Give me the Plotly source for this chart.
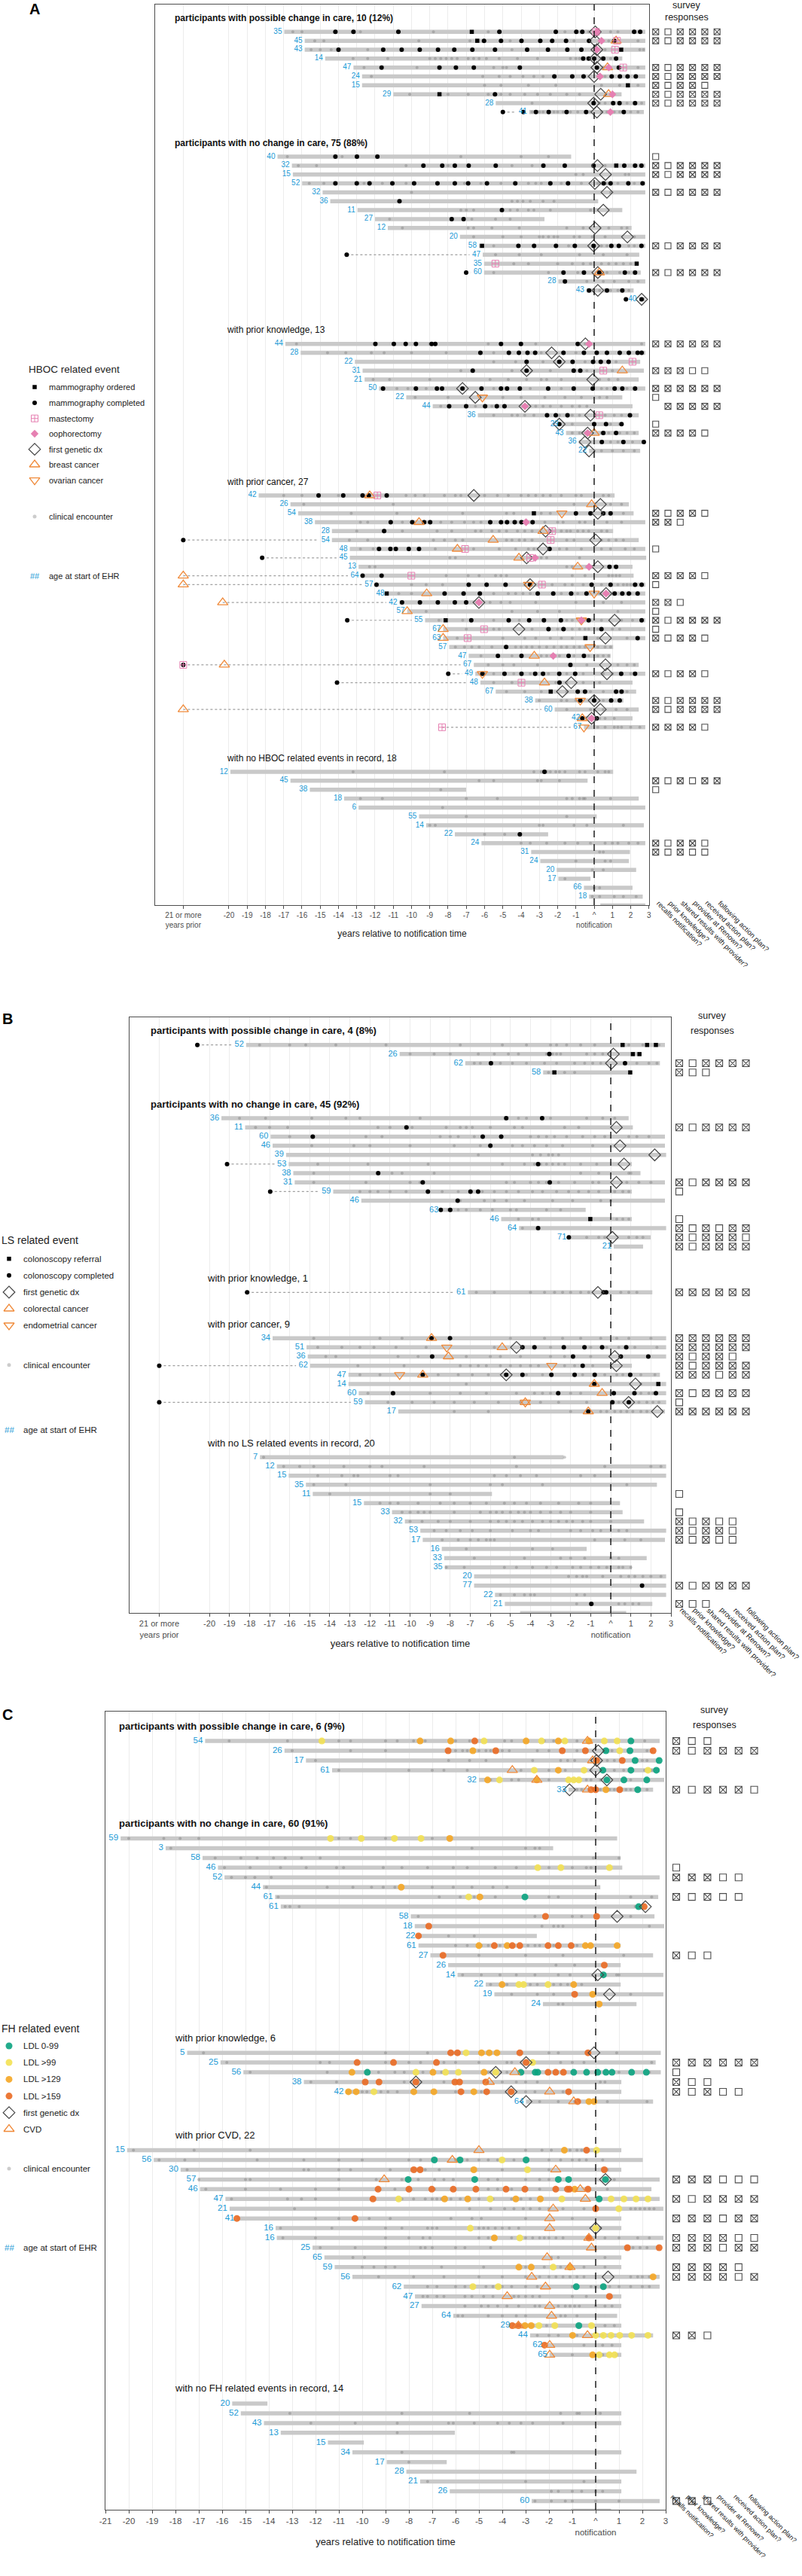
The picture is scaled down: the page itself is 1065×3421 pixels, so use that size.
import plotly.graph_objects as go

W, H = 1065, 3421
FONT = "Liberation Sans, Arial, sans-serif"
BLUE = "#1b9ad6"
BAR = "#c9c9c9"
ENC = "rgba(100,100,100,0.33)"
ORANGE = "#f08a3a"
PINK = "#e680b2"
DARK = "#444444"
SURVEY_Q = ["recalls notification?", "prior knowledge?", "shared results with provider?",
            "provider at Renown?", "received action plan?", "following action plan?"]

# ---------------- A: HBOC ----------------
A_titles = ["<b>participants with possible change in care, 10 (12%)</b>",
            "<b>participants with no change in care, 75 (88%)</b>",
            "with prior knowledge, 13", "with prior cancer, 27",
            "with no HBOC related events in record, 18"]
A_sizes = [10, 17, 13, 27, 18]
A_age = [35, 45, 43, 14, 47, 24, 15, 29, 28, 41,
         40, 32, 15, 52, 32, 36, 11, 27, 12, 20, 58, 47, 35, 60, 28, 43, 40,
         44, 28, 22, 31, 21, 50, 22, 44, 36, 29, 43, 36, 22,
         42, 26, 54, 38, 28, 54, 48, 45, 13, 64, 57, 48, 42, 57, 55, 67, 63, 57, 47, 67, 49, 48, 67, 38, 60, 42, 67,
         12, 45, 38, 18, 6, 55, 14, 22, 24, 31, 24, 20, 17, 66, 18, 27, 49, 25]
A_start = [-16.97, -15.85, -15.85, -14.73, -13.18, -12.71, -12.71, -11.0, -5.39, -3.55,
           -17.34, -16.55, -16.5, -15.99, -14.87, -14.45, -12.96, -12.0, -11.3, -7.35, -6.31, -6.1, -6.03, -6.03,
           -1.96, -0.42, 2.45,
           -16.91, -16.07, -13.1, -12.68, -12.57, -11.78, -10.29, -8.84, -6.37, -1.82, -1.54, -0.84, -0.28,
           -18.37, -16.63, -16.21, -15.29, -14.36, -14.36, -13.38, -13.38, -12.9, -12.76, -11.98, -11.36, -10.66,
           -10.24, -9.26, -8.27, -8.27, -7.94, -6.87, -6.59, -6.51, -6.23, -5.39, -3.23, -2.16, -0.65, -0.56,
           -19.92, -16.63, -15.57, -13.69, -12.9, -9.59, -9.2, -7.63, -6.17, -3.45, -2.95, -2.05, -1.96, -0.56,
           -0.28, 0.34, 1.26, 2.52]
A_end = [2.8, 2.8, 2.8, 1.54, 2.8, 2.8, 2.8, 1.5, 2.8, 2.72,
         -1.26, 2.8, 2.8, 2.8, 2.8, 0.22, 1.54, -2.72, 2.05, 2.8, 2.8, 2.47, 2.4, 2.55, 2.8, 2.16, 2.8,
         2.8, 2.8, 2.52, 2.72, 2.44, 2.8, 1.54, 2.1, 2.44, 1.54, 2.44, 2.8, 2.52,
         1.12, 1.9, 2.16, 2.8, 1.04, 2.44, 2.8, 2.85, 2.1, 2.16, 2.8, 2.8, 2.8, 2.8, 2.8, 2.8, 2.8, 1.04, 0.9,
         2.44, 2.8, 2.1, 2.3, 1.6, 2.44, 2.1, 2.8,
         1.04, -0.36, -7.01, 2.44, 2.8, 0.14, 2.72, -2.52, 2.8, 1.96, 1.9, 2.3, -0.2, 2.1, 2.66, 2.8, 2.8, 2.75]
A_enc = {
    0: [-16.5, -16.0, -12.8, -8.8, -5.8, -1.6, -0.3, 0.9, 1.3], 1: [-15.3, -14.8, -9.6, -6.8, -4.6, -1.1, 0.8, 2.4],
    2: [-15.5, -15.0, -14.4, -12.4, -4.5, 0.6, 2.5, 2.7],
    3: [-13.2, -12.4, -11.3, -9.0, -8.7, -8.4, -8.1, -7.8, -7.5, -6.9, -6.6, -6.3, -5.9, -5.2, -4.2, -3.1, -1.3,
        -1.0, -0.8, 0.4, 0.9],
    4: [-12.6, -9.7, -5.5, -5.0, -4.8, 0.5, 2.4], 5: [-12.2, -6.1, -5.2, -4.6, -3.9, -3.3, -2.8, 0.6],
    6: [-6.0, -5.1, -3.6, -2.1, 0.4, 1.4, 2.4], 7: [-10.1, -8.0, -6.9, -5.8, -5.1, -4.6, -3.8, -3.1, -2.4, -1.5, -0.8],
    8: [-3.4, 0.3, 0.6, 1.8, 2.6], 9: [-3.4, -3.0, -2.8, -2.2, -2.0, -1.7, -1.3, -0.9, -0.2, 0.4, 0.7, 1.1, 1.4, 2.0, 2.4],
    10: [-16.8, -13.8, -7.3, -4.0, -2.5], 11: [-16.2, -15.2, -10.3, -8.0, -4.5, -3.4, 0.6, 1.6], 12: [-1.0, -0.6, 1.7, 1.9],
    13: [-15.6, -14.8, -12.6, -11.6, -10.3, -7.1, -6.2, -5.1, -3.6, -3.2, -2.9, -1.8, -0.7, 0.2, 0.7, 1.3, 2.2],
    14: [-10.0, 0.9], 15: [-4.5, -4.2, -3.9, -3.5, -2.8, -2.2], 16: [-7.3, -7.0, -6.6, -4.6, -4.2, -3.6, -3.3, -2.4, -0.2],
    17: [-11.2, -6.7, -5.4, -4.6], 18: [-10.5, -6.9, -6.6, -5.6, -4.1, -1.5, -0.6, 0.8, 1.5, 1.8],
    19: [-6.6, -5.0, -4.0, -3.0, -2.8, -2.5, -2.2, -2.0, -1.1, -0.8, -0.1, 0.6, 2.2], 20: [-5.5, -1.4, 0.4, 0.7, 1.9, 2.2],
    21: [-5.4, -4.1, -2.9, -0.8, 0.5, 1.8], 22: [-4.4, -3.6, -2.0, -1.2, -0.6, -0.2, 0.4, 0.8, 1.2, 1.6, 2.0],
    23: [-5.5, -2.5, -0.9, 0.7, 1.4, 1.9], 24: [-0.4, 0.5, 1.1, 1.9, 2.4], 25: [-0.3, 0.3, 0.9, 1.3, 1.9],
    27: [-16.3, -9.0, -5.8, -3.2, -0.5, 2.6], 28: [-14.6, -13.6, -12.2, -11.5, -10.0, -8.1, -5.5, -2.9, -1.0],
    29: [-5.5, -4.3, -2.8, -0.5, 1.2], 30: [-7.3, -4.5, -2.4, -0.4, 1.0],
    31: [-12.1, -11.2, -9.0, -5.7, -4.7, -3.7, -2.9, -2.6, -1.8, 0.3, 0.8, 1.3],
    32: [-10.8, -10.2, -9.2, -5.5, -3.5, -1.8, 0.4, 0.7, 1.8], 33: [-9.8, -8.0, -5.0, -4.0, -2.7, -1.6, -0.7, 0.3, 0.7],
    34: [-8.4, -6.5, -5.6, -3.2, -2.8, -2.4, -1.8, -1.2, -0.8, -0.4],
    35: [-5.5, -4.5, -4.2, -3.8, -3.3, -1.9, -1.2, -0.8, 0.6, 1.1, 1.5], 36: [-1.2, 0.9, 1.4],
    37: [-1.2, -0.8, 0.4, 0.8, 1.4, 1.8, 2.2], 38: [0.9, 1.3, 2.1], 39: [0.4, 1.0, 1.6, 2.2],
    40: [-17.0, -16.0, -14.0, -10.3, -9.8, -9.3, -8.2, -7.6, -7.3, -6.0, -5.3, -4.7, -4.0, -3.6, -3.2, -2.8, -2.4,
         -1.8, -1.0, -0.7, 0.5, 0.8],
    41: [-15.9, -11.0, -1.1, 0.9, 1.5], 42: [-13.3, -10.8, -7.2, -4.8, -4.4, -2.9, -2.4, 1.6],
    43: [-12.8, -12.4, -10.5, -10.0, -8.4, -7.8, -7.1, -6.6, -6.2, -2.7, -2.0, -1.7, -0.8, -0.5, 0.7, 1.5],
    44: [-13.0, -10.5, -8.6, -7.8, -6.5, -6.2, -5.6, -5.2, -4.8, -4.2, -3.8, -3.4, -1.8, -1.5, -1.3, -0.9, -0.6,
         -0.3, 0.4, 0.7],
    45: [-13.4, -12.4, -8.8, -8.2, -7.6, -7.2, -4.8, -4.5, -4.1, -3.8, -3.4, -1.5, -1.1, 0.4, 0.8, 1.2, 1.6],
    46: [-12.8, -12.1, -8.7, -6.6, -5.2, -4.3, -3.6, -3.3, -1.9, -1.5, -0.7, 0.4, 0.9, 1.7, 2.2],
    47: [-7.9, -7.6, -2.9, -2.6, -0.8], 48: [-12.3, -12.0, -1.5, -1.2, -0.4],
    49: [-8.1, -6.9, -6.3, -5.4, -5.1, -4.8, -1.2, -0.5, 0.8, 1.0, 1.2, 1.4],
    50: [-10.0, -9.2, -8.3, -2.3, -1.6, -1.2, -0.6, 0.4, 1.3, 1.6, 1.8, 2.0],
    51: [-10.7, -10.0, -5.5, -4.7, -4.3, -3.9, -3.5, -1.8, -0.9, 0.3, 0.6, 2.0],
    52: [-6.4, -5.7, -5.1, -4.6, -3.2, -1.0, 0.5, 1.5], 53: [-9.2, -4.5, -3.1, -1.9, 1.3],
    54: [-8.5, -7.2, -5.5, -4.1, -1.5, -1.2, 0.4, 1.5, 2.1],
    55: [-7.0, -5.5, -5.2, -3.4, -2.0, -1.6, -1.2, -0.8, -0.5, -0.3, 0.2, 1.0, 1.4],
    56: [-7.5, -5.0, -3.8, -3.2, -2.4, -1.8, -1.2, 0.2, 1.8],
    57: [-7.6, -7.1, -6.7, -6.3, -5.6, -4.3, -4.0, -3.7, -3.4, -3.0, -2.6, -2.2, -1.8, -1.5, -1.1, -0.8, -0.5, 0.2,
         0.6, 0.9],
    58: [-6.2, -4.5, -2.9, -2.6, -1.9, -1.1, -0.3, 0.2, 0.5, 0.8], 59: [-5.8, -5.0, -4.4, -3.1, -0.4, 1.3, 1.8, 2.2],
    60: [-6.0, -5.5, -4.4, -3.5, -2.5, -1.5, -0.6, 0.5, 1.0, 2.0], 61: [-5.5, -4.5, -2.1, -1.5, -0.6, 0.3],
    62: [-4.8, -3.8, -2.9, -1.5, -0.2, 0.5, 1.8], 63: [-3.0, -1.8, -1.5, -1.0, 0.5], 64: [-1.5, -0.2, 0.5, 1.2, 1.8],
    65: [0.3, 0.6, 1.1], 66: [0.2, 0.6, 1.1, 1.3, 1.5, 2.0, 2.5],
    67: [-13.2, -8.2, -3.3, -2.9, -2.6, -2.4, -2.1, -1.9, -1.6, -0.8, -0.5, 0.2, 0.6, 0.8],
    68: [-6.3, -5.5, -3.1, -2.9, -1.9], 69: [-8.4], 70: [-12.8, -11.6, -7.0, -5.3, -1.5, -1.2, -0.8, -0.6, -0.5, 0.9],
    71: [-8.3], 72: [-7.0, -1.5], 73: [-9.0, -8.7, -3.0, -2.8, -1.1, -0.4, 1.6], 74: [-6.0, -4.9],
    75: [-4.0, -3.5, -2.6, -1.6, -0.9, -0.2, 0.6, 1.0, 1.3, 1.9, 2.4], 76: [0.3, 0.5], 77: [-1.0, 0.6, 0.9],
    78: [-0.1, 0.5], 79: [-1.6], 80: [0.0, 0.3], 81: [-0.1, 0.3, 1.1, 1.6, 2.3], 82: [0.4, 2.0],
}
A_done = {
    0: [-14.17, -13.18, -10.72, -5.19, -2.10, -0.98, -0.65, 2.19, 2.52],
    1: [-6.03, -5.1, -3.98, -2.95, -2.3, -1.54, -0.28, 1.1],
    2: [-14.0, -11.55, -10.54, -9.55, -8.55, -7.66, -6.67, -5.43, -3.67, -2.53, -1.47, -0.7, 0.15],
    3: [-0.6, -0.3, 0.0, 0.5, 1.2], 4: [-11.64, -8.47, -7.57, -6.59, -4.07, 0.15, 1.35],
    5: [-2.18, -1.2, -0.58, 0.96, 1.41, 1.83, 2.28], 7: [-5.43], 8: [-0.03, 1.04, 1.39, 2.24],
    9: [-5.0, -3.88, -3.19, -2.49, -1.51, -0.44, 1.62], 10: [-14.17, -12.99, -11.87],
    11: [-9.35, -8.32, -7.63, -6.87, -5.39, -2.78, -1.61, -0.03, 1.65, 2.24, 2.59],
    13: [-14.17, -13.0, -12.3, -11.05, -9.86, -8.58, -7.63, -6.9, -5.87, -4.32, -2.4, -1.43, 0.52, 0.9, 1.87, 2.65],
    15: [-10.66], 16: [-5.05], 17: [-7.8, -7.15], 20: [-4.15, -3.29, -2.09, -1.06, -0.03, 0.94, 1.35, 2.59],
    21: [-13.55], 23: [-7.01, -1.68, -0.56, 0.28, 1.68, 2.24], 24: [-1.6], 25: [-0.28, 0.7, 1.54], 26: [1.74, 2.6],
    27: [-11.98, -10.97, -10.32, -9.76, -8.9, -8.7, -5.1, -4.01, -0.9],
    28: [-6.23, -4.67, -4.12, -3.65, -3.23, -1.68, -0.56, 0.14, 0.7, 1.4, 1.9, 2.38, 2.6],
    29: [-3.7, -1.91, -1.18, -0.06, 0.36, 0.79], 30: [-6.65, -3.7, -1.12, -0.76],
    32: [-11.56, -9.76, -8.61, -8.33, -7.21, -6.17, -5.1, -4.77, -4.07, -2.52, -1.12, -0.08, 1.12, 1.54, 2.24],
    34: [-7.94, -7.01, -5.97, -5.33, -4.91], 35: [-2.58, -2.1, -1.46, 1.96], 36: [-1.91, 0.0, 0.65, 1.5],
    37: [0.5, 1.2], 38: [0.42, 1.6, 2.72], 40: [-15.09, -13.74, -12.68, -12.34, -11.36], 42: [-1.0, -0.2, 0.5, 0.9],
    43: [-11.14, -9.96, -9.31, -8.98, -5.69, -5.1, -4.77, -4.35, -3.98, -3.73, -3.37], 44: [-11.5], 45: [-22.5],
    46: [-11.78, -11.16, -10.86, -10.15, -9.59, -2.44], 47: [-18.18], 48: [0.84, 1.2], 49: [-12.68, -11.64],
    50: [-11.92, -6.87, -5.89, -4.85, -3.51, -0.14, 0.9, 2.24, 2.6],
    51: [-8.19, -7.15, -6.26, -3.09, -2.24, -1.26, -0.42, 1.12, 1.54, 1.9, 2.38],
    52: [-10.52, -9.54, -8.56, -7.63, -7.01], 54: [-13.52, -6.73, -4.68, -3.56, -2.75, -1.82, -0.3, 2.6],
    55: [-2.5, -1.68, 0.4], 56: [2.38], 57: [-4.82], 58: [-5.27, -3.98, -2.24, -1.4, -0.56], 59: [-22.5, -1.3],
    60: [-7.99, -6.12, -4.91, -3.98, -3.23, -2.8, -1.91, -1.04, 1.48, 2.24], 61: [-14.08, -1.9],
    62: [-0.9, -0.5, 1.2, 1.5], 63: [-0.76, 0.0, 0.93, 1.4], 65: [-0.65, 0.14], 67: [-2.72], 74: [-4.07],
}
A_ordered = {0: -6.70, 1: -6.4, 2: 1.48, 6: 1.85, 7: -8.47, 11: 1.21, 20: -6.14, 22: 2.33, 42: -3.3,
             51: -11.36, 54: -8.13, 56: -0.48, 62: -2.38}
A_gdx = {0: 0.06, 1: 0.06, 2: 0.15, 3: 0.05, 4: 0.15, 5: 0.0, 7: 0.36, 8: -0.03, 9: 0.15, 11: 0.18, 12: 0.62,
         13: 0.04, 14: 0.7, 16: 0.5, 18: 0.05, 19: 1.82, 20: -0.03, 23: 0.2, 25: 0.2, 26: 2.6, 27: -0.48,
         28: -2.33, 29: -1.91, 30: -3.7, 31: -0.08, 32: -7.21, 33: -6.51, 34: -3.79, 35: -0.2, 36: -1.91,
         37: -0.36, 38: -0.5, 39: -0.28, 40: -6.59, 41: 0.34, 42: 0.2, 44: -2.66, 45: 0.08, 46: -2.8, 47: -3.7,
         48: 0.2, 50: -3.51, 51: 0.65, 52: -6.31, 54: 1.12, 55: -4.12, 56: 0.62, 59: 0.62, 60: 0.7, 61: -1.26,
         62: -1.74, 63: 0.0, 64: 0.34, 65: -0.14}
A_breast = {1: 1.2, 4: 0.73, 7: 0.79, 23: 0.28, 30: 1.54, 37: 0.0, 40: -12.29, 41: -0.14, 43: -9.59, 44: -2.8,
            45: -5.53, 46: -7.49, 47: -4.12, 48: -0.9, 49: -22.5, 50: -22.5, 51: -9.17, 52: -20.34, 53: -10.24,
            55: -8.27, 56: -8.27, 58: -3.28, 59: -20.25, 61: -2.72, 64: -22.5, 65: -0.65}
A_ovarian = {33: -6.12, 42: -1.77, 50: -3.59, 51: 0.0, 54: -0.7, 57: -0.22, 60: -6.12, 63: -0.76, 66: -0.56}
A_mastectomy = {0: 0.1, 1: 1.25, 2: 1.14, 4: 1.59, 22: -5.41, 29: 2.1, 30: 0.5, 35: 0.28, 40: -11.87, 44: -2.3,
                45: -2.38, 46: -7.07, 47: -3.5, 49: -10.01, 50: -2.86, 55: -6.03, 56: -6.93, 59: -22.5,
                61: -3.98, 66: -8.33}
A_oophorectomy = {0: 0.15, 1: 0.4, 2: 0.15, 4: 0.8, 5: 0.32, 7: 1.0, 9: 0.89, 27: -0.28, 34: -3.79, 37: -0.36,
                  43: -3.73, 47: -3.23, 48: -0.28, 51: 0.65, 52: -6.31, 54: -0.7, 58: -2.24, 65: -0.14}
A_survey = {0: "x_xxxx", 1: "x_xxxx", 4: "x_xxxx", 5: "x_xxxx", 6: "x_xx_", 7: "x_xxxx", 8: "x_xxxx",
            10: "_", 11: "x_xxxx", 12: "x_xxxx", 14: "x_xxxx", 20: "x_xxxx", 23: "x_xxxx",
            27: "xxxxxx", 30: "xxx__", 32: "xxxxxx", 33: "_", 34: " xxxxx", 36: "_", 37: "xxxx_",
            42: "x_xx_", 43: "xx_", 46: "_", 49: "xxxx_", 50: "_", 52: "xx_", 53: "_", 54: "x_xxxx", 55: "_",
            56: "x_xx_", 60: "x_xx_", 63: "x_xxxx", 64: "x_xxxx", 66: "xxxx_",
            68: "x_x_xx", 69: "_", 75: "x_xx_", 76: "x_x__", 82: "x_x_xx", 83: "x_xxxx", 84: "x x_xx"}

# ---------------- B: LS ----------------
B_titles = ["<b>participants with possible change in care, 4 (8%)</b>",
            "<b>participants with no change in care, 45 (92%)</b>",
            "with prior knowledge, 1", "with prior cancer, 9", "with no LS related events in record, 20"]
B_sizes = [4, 15, 1, 9, 20]
B_age = [52, 26, 62, 58,
         36, 11, 60, 46, 39, 53, 38, 31, 59, 46, 63, 46, 64, 71, 21,
         61,
         34, 51, 36, 62, 47, 14, 60, 59, 17,
         7, 12, 15, 35, 11, 15, 33, 32, 53, 17, 16, 33, 35, 20, 77, 22, 21, 34, 26, 23]
B_start = [-18.17, -10.52, -7.25, -3.37,
           -19.4, -18.22, -16.95, -16.85, -16.18, -16.05, -15.82, -15.75, -13.83, -12.43, -8.47, -5.46, -4.57,
           -2.09, 0.15,
           -7.12,
           -16.85, -15.16, -15.1, -14.98, -13.07, -13.07, -12.56, -12.25, -10.59,
           -17.48, -16.64, -16.05, -15.19, -14.85, -12.3, -10.9, -10.26, -9.49, -9.37, -8.42, -8.3, -8.27,
           -6.81, -6.81, -5.77, -5.28, -4.52, 0.41, 1.3]
B_end = [2.7, 1.48, 2.45, 0.97,
         0.89, 1.1, 2.7, 2.7, 2.76, 1.05, 1.48, 2.7, 1.05, 2.7, -1.25, 1.05, 2.76, 1.99, 1.61,
         2.07,
         2.76, 2.76, 2.76, 1.05, 2.45, 2.76, 2.76, 2.76, 2.7,
         -2.35, 2.76, 2.76, 2.3, -5.92, 0.46, 0.59, 1.66, 2.76, 2.7, -1.2, 1.79, 1.05, 2.76, 2.76, 2.76, 2.07,
         0.77, 2.76, 2.76]
B_enc = {
    0: [-17.5, -16.0, -15.2, -13.7, -11.2, -7.5, -5.4, -4.2, -3.0, -2.7, -2.2, -1.5, -0.8, 0.9, 1.6, 2.4],
    1: [-10.0, -8.8, -8.0, -6.6, -5.8, -5.1, -4.6, -3.2, -2.9, -2.7, -2.5, -1.2, -0.8, -0.4],
    2: [-6.8, -6.5, -5.5, -4.9, -4.2, -3.3, -2.7, -1.8, -1.3, -0.9, -0.5, 1.3, 1.9, 2.3], 3: [-3.1, -2.3, -1.8],
    4: [-18.5, -17.2, -14.9, -13.2, -12.5, -9.5, -4.6, -4.2, -3.0, -1.2, -0.4, 0.2],
    5: [-17.7, -17.0, -16.1, -11.6, -11.0, -9.9, -8.2, -7.5, -7.2, -6.9, -6.0, -4.8, -4.4, -2.3, -1.6],
    6: [-16.0, -12.2, -11.4, -8.5, -8.0, -7.6, -6.8, -4.0, -3.6, -3.2, -2.8, -2.2, -1.4, -0.8, -0.3, 0.9, 1.3, 1.9],
    7: [-14.9, -12.8, -12.0, -10.0, -7.8, -6.5, -4.9, -4.4, -3.8, -3.2, -2.4, -0.9],
    8: [-6.6, -3.9, -3.5, -3.1, -2.9, -2.6],
    9: [-14.6, -12.1, -9.1, -5.4, -4.3, -3.8, -3.5, -3.2, -2.9, -2.6, -2.3, -1.5, -0.7],
    10: [-14.8, -10.9, -10.4, -8.8, -1.5, -0.6, 0.9, 1.0],
    11: [-14.8, -12.2, -10.0, -9.5, -5.2, -4.8, -4.0, -3.6, -3.2, -2.6, -1.8, -0.9, -0.6, 0.8, 1.4, 2.0],
    12: [-12.5, -12.0, -11.6, -11.0, -10.2, -8.4, -7.6, -6.4, -5.8, -5.2, -4.6, -3.9, -3.4, -2.7, -2.1, -1.6,
         -1.1, -0.6, 0.2, 0.6, 0.9],
    13: [-7.5, -6.3, -5.8, -5.2, -4.3, -2.9, -1.9, -0.5, 0.0], 14: [-8.1, -7.6, -7.2, -6.5, -5.9, -5.0, -4.7, -3.2, -2.5],
    15: [-4.6, -3.9, -3.6, 0.3, 0.6, 0.9], 16: [-4.4], 17: [-1.2, -0.6, -0.3, 0.9, 1.3, 1.6],
    19: [-6.7, -5.8, -4.0, -3.3, -2.8, -2.4, -2.0, -1.5, -1.1, 0.5, 0.9, 1.3],
    20: [-14.8, -11.5, -10.4, -5.0, -3.3, -2.4, -1.5, -0.5, 0.3, 0.9, 2.0],
    21: [-14.6, -13.4, -12.5, -11.8, -10.7, -9.2, -5.8, -3.0, -1.0, -0.2, 0.4, 1.2, 2.3],
    22: [-14.2, -13.7, -10.6, -9.6, -7.2, -6.0, -5.5, -4.5, -3.0, -2.3, -1.0, 0.5],
    23: [-12.6, -10.3, -7.5, -7.0, -6.6, -6.2, -5.5, -5.0, -4.5, -4.0, -3.6, -2.3, -1.8, -0.9],
    24: [-12.5, -11.5, -8.6, -7.6, -6.9, -6.1, -4.2, -3.4, -1.4, -0.3, 0.3, 0.6, 1.5, 2.2], 25: [-7.2, 1.5],
    26: [-12.1, -9.0, -7.5, -6.2, -4.7, -3.8, -3.4, -3.0, -2.0, -1.5, 1.5, 1.9, 2.1],
    27: [-11.1, -9.9, -8.8, -7.8, -6.8, -5.6, -4.5, -3.5, -2.6, -1.2, 0.4, 1.4, 1.8, 2.1, 2.4],
    28: [-7.8, -6.1, -2.0, -0.5, -0.2, 0.2, 0.5, 0.8, 1.1, 1.5, 1.8],
    29: [-17.3, -4.8, -2.3], 30: [-16.3, -15.5, -14.8, -13.3, -12.0, -11.4, -9.3, -4.7, -0.3, 2.0, 2.5],
    31: [-14.6, -13.4, -12.8, -12.6, -11.0, -10.6, -5.8, -5.2, -4.5, -3.7, -1.5, -0.8],
    32: [-14.8, -13.2, -9.0, -6.0, -5.4, -3.4, 0.8], 33: [-14.0, -9.0, -8.0],
    34: [-11.5, -11.0, -10.6, -9.6, -8.5, -7.8, -7.0, -6.2, -5.3, -4.8, -4.2, -3.5, -2.6, -1.6, -1.0],
    35: [-10.4, -10.0, -9.6, -9.3, -9.0, -7.8, -6.5, -6.0, -5.7, -5.4, -5.0, -4.6, -4.3, -4.0, -3.5, -3.0, -2.5,
         -2.0, -1.0],
    36: [-10.0, -9.4, -8.6, -8.0, -7.0, -6.0, -5.6, -5.2, -4.8, -4.4, -3.9, -3.4, -3.0, -2.6, -2.2, -1.9, -1.4,
         -1.0, 0.0],
    37: [-8.8, -8.2, -7.5, -6.9, -6.0, -4.9, -4.0, -3.6, -2.0, -1.5, -0.9, -0.5, 0.4, 0.8],
    38: [-8.4, -7.6, -7.0, -6.6, -6.2, -6.0, -5.8, -0.8, 0.7, 1.5], 39: [-7.2, -3.9, -2.9],
    40: [-6.8, -4.3, -2.5, -2.0, -1.3, 0.0, 0.4],
    41: [-8.2, -7.3, -5.3, -4.7, -3.9, -3.2, -2.7, -1.9, -1.5, -1.0, -0.6, -0.2, 0.4, 0.6, 1.0],
    42: [-2.1, -1.7, -1.4, -1.2, -0.4, 0.5, 0.9, 1.2, 1.6, 2.0, 2.5], 44: [-5.5, -4.8, -4.3, -4.0, -3.8, -1.7, -1.3],
    45: [-1.7, -1.0, -0.9, 0.4, 0.7, 1.1, 1.4], 46: [-4.0], 47: [0.8, 1.0, 1.5], 48: [2.0],
}
B_done = {0: [-20.6], 1: [-3.06], 2: [-5.97, 0.71], 4: [-5.21, -3.42], 5: [-10.18], 6: [-14.85, -6.38, -5.46],
          7: [-6.0], 9: [-19.12, -3.62], 10: [-11.59], 11: [-9.37, -3.04], 12: [-16.97, -9.11, -6.99, -6.61],
          13: [-7.63], 14: [-8.47, -8.0], 16: [-3.62], 17: [-2.09], 19: [-18.12, -0.36, -0.23],
          20: [-8.93, -8.01], 21: [-4.4, -3.8, -2.34, -1.31, -0.43, 0.77], 22: [-8.9, -1.88, 0.5, 1.87],
          23: [-22.5, -1.4], 24: [-9.37, -5.21, -4.4, -2.96, -1.8, -0.8, 0.97], 25: [-0.82],
          26: [-10.85, -2.62, 0.15, 1.18, 2.25], 27: [-22.5, 0.08, 0.9], 28: [-1.12], 43: [1.56], 45: [-0.97]}
B_referral = {0: [0.59, 1.81, 2.25], 1: [1.1, 1.43], 3: [-2.81, 0.97], 15: [-1.02], 25: [2.37]}
B_gdx = {1: 0.13, 2: 0.03, 5: 0.28, 7: 0.46, 8: 2.19, 9: 0.66, 11: 0.28, 17: 0.08, 19: -0.64, 21: -4.7,
         22: 0.2, 23: 0.28, 24: -5.21, 25: 1.23, 27: 0.89, 28: 2.32}
B_colorectal = {20: -8.93, 21: -5.41, 22: -8.09, 24: -9.37, 25: -0.82, 26: -0.43, 27: -4.26, 28: -1.12}
B_endometrial = {21: -8.17, 23: -2.94, 24: -10.52, 27: -4.26}
B_survey = {2: "x_xxxx", 3: "x__", 5: "x_xxxx", 11: "x_xxxx", 12: "_", 15: "_", 16: "x_x_xx", 17: "x_xxx_",
            18: "x_xxxx", 19: "xxxxxx", 20: "xxxxxx", 21: "xxxxxx", 22: "x_xx_", 23: "x_xxxx", 24: "xxx_xx",
            26: "x_xxxx", 27: "_", 28: "xxxxxx", 33: "_", 35: "_", 36: "x_x__", 37: "x_xx_", 38: "x_x__",
            43: "x_xxxx", 45: "x__", 48: "x__"}

# ---------------- C: FH ----------------
C_titles = ["<b>participants with possible change in care, 6 (9%)</b>",
            "<b>participants with no change in care, 60 (91%)</b>",
            "with prior knowledge, 6", "with prior CVD, 22", "with no FH related events in record, 14"]
C_sizes = [6, 18, 6, 22, 14]
C_age = [54, 26, 17, 61, 32, 33,
         59, 3, 58, 46, 52, 44, 61, 61, 58, 18, 22, 61, 27, 26, 14, 22, 19, 24,
         5, 25, 56, 38, 42, 64,
         15, 56, 30, 57, 46, 47, 21, 41, 16, 16, 25, 65, 59, 56, 62, 47, 27, 64, 29, 44, 62, 65,
         20, 52, 43, 13, 15, 34, 17, 28, 21, 26, 60, 60, 45, 26]
C_start = [-16.73, -13.33, -12.41, -11.29, -5.0, -1.16,
           -20.35, -18.42, -16.84, -16.18, -15.9, -14.25, -13.73, -13.49, -7.92, -7.75, -7.63, -7.59, -7.08,
           -6.32, -5.92, -4.71, -4.34, -2.26,
           -17.5, -16.07, -15.09, -12.5, -10.7, -2.98,
           -20.07, -18.93, -17.78, -17.02, -16.95, -15.86, -15.68, -15.37, -13.71, -13.66, -12.13, -11.62,
           -11.18, -10.42, -8.22, -7.74, -7.46, -6.1, -3.57, -2.81, -2.19, -1.97,
           -15.57, -15.2, -14.21, -13.49, -11.47, -10.42, -8.95, -8.11, -7.52, -6.25, -2.74, -1.05, -0.83, 1.03]
C_end = [2.74, 2.46, 2.74, 2.74, 2.94, 2.46,
         0.92, -1.82, 1.07, 1.14, 2.74, 0.2, 2.68, 2.08, 2.52, 2.94, -2.52, 1.07, 2.46, 1.07, 2.9, 1.07, 2.9, 1.75,
         2.79, 2.57, 2.79, 1.1, 1.1, 2.46,
         1.1, 2.02, 1.1, 2.74, 2.39, 2.74, 2.9, 1.1, 1.1, 2.9, 2.74, 1.1, 1.1, 2.74, 2.74, 1.1, 1.1, 0.92, 1.1,
         2.46, 1.1, 1.1,
         -14.06, 1.1, 1.1, -6.03, -9.93, 1.1, -6.38, 1.75, 1.1, 1.1, 2.74, 0.66, 0.92, 2.52]
C_enc = {
    0: [-15.7, -13.2, -11.0, -10.5, -9.0, -8.5, -7.8, -7.3, -6.0, -5.4, -3.9, -3.6, -2.2, -1.8, -0.8, 2.1],
    1: [-13.0, -10.5, -9.0, -6.0, -5.7, -5.5, -5.0, -4.7, -4.5, -4.0, -3.7, -2.5, -2.0, -0.8, 0.7, 2.2],
    2: [-12.0, -6.3, -5.4, -4.7, -2.7, -1.5, -1.2, -0.9, 0.5, 0.8, 2.0, 2.2],
    3: [-11.0, -8.0, -7.0, -6.5, -5.5, -3.2, -2.0, -1.3, -0.2, 0.8, 1.2, 2.1, 2.4],
    4: [-4.5, -3.6, -3.3, -2.5, -2.0, -0.4, -0.2, 0.2, 1.5], 5: [-0.8, -0.6, 0.2, 0.6, 0.8, 1.1, 1.3, 1.5, 2.2],
    6: [-20.0, -18.5, -17.8, -17.0, -11.0, -10.5, -9.0, -7.0], 7: [-18.2, -5.3, -3.0, -2.6, -2.4],
    8: [-16.3, -15.2, -14.5, -13.8, -13.3, -12.6, -11.8, -0.1, 1.0],
    9: [-15.9, -14.8, -13.5, -12.4, -11.1, -10.8, -9.1, -8.3, -7.2, -6.1, -5.5, -4.3, -3.4, -2.0, -1.0, -0.4, -0.2],
    10: [-15.6, -15.0, -14.6, -13.9], 11: [-14.1, -11.5, -10.4, -9.6, -9.1, -8.6, -7.0, -6.1, -5.3, -4.4, -3.8],
    12: [-13.6, -6.7, -5.8, -5.2, -4.3, -2.0, -1.6, 1.5, 2.4], 13: [-13.3, -13.1, -12.7, 1.7, 1.9],
    14: [-7.6, -2.6, -1.0, -0.6, 1.5], 15: [-2.3, -1.8, -1.6, -1.4, 2.3], 16: [-6.3, -5.2],
    17: [-6.0, -5.5, -4.9, -4.6, -4.1, -2.9, -2.6, -2.4, -1.8, -0.8], 18: [-5.0, -3.0, -1.4, 1.2], 19: [-1.7, -0.9],
    20: [-5.7, -4.9, -4.1, -3.4, -2.6, -1.6, -1.1, 0.9, 1.0], 21: [-4.5, -3.8, -2.8, -2.5, -1.8, -1.5, -1.2, -0.6],
    22: [-3.6, -2.5, -1.8, 1.5], 23: [-1.6, -1.4],
    24: [-16.8, -9.0, -7.2, -2.0, -1.6, 0.9],
    25: [-15.8, -11.8, -11.4, -9.0, -8.0, -7.5, -6.5, -6.0, -5.0, -3.8, -3.6, -1.5, -1.0, -0.5, 2.4],
    26: [-14.8, -11.5, -9.3, -8.6, -8.2, -7.4, -6.6, -4.6, -3.8, 1.0, 2.3],
    27: [-12.2, -11.1, -8.2, -6.5, -4.0, -3.4, -3.0, -2.5, 0.2, 0.4],
    28: [-10.0, -9.8, -9.2, -8.9, -8.5, -6.0, -4.9, -3.0, -2.6, -1.4], 29: [-2.4, -1.6, -0.9, 0.5, 2.2],
    30: [-19.8, -17.2, -14.8, -3.0, -2.3, -1.9, -1.1, -0.8, -0.6],
    31: [-18.7, -17.6, -14.5, -12.5, -11.0, -10.0, -8.0, -7.5, -6.0, -5.5, -5.0, -4.6, -4.2, -3.5, -2.0, -1.5,
         -1.0, -0.7, -0.4, 0.3],
    32: [-17.5, -12.5, -12.3, -11.0, -10.5, -8.8, -7.3, -6.7, -4.0, -2.0, 0.5],
    33: [-17.0, -15.0, -14.8, -11.0, -9.4, -8.3, -7.6, -6.9, -6.5, -6.1, -4.6, -4.2, -3.0, -2.4, -2.0, 0.8],
    34: [-16.7, -15.0, -13.5, -12.0, -11.0, -8.6, -6.9, -4.6, -4.2, -3.6, -2.4, 0.5],
    35: [-15.6, -13.2, -12.6, -12.0, -8.3, -7.8, -7.3, -7.0, -6.8, -6.6, -6.2, -5.8, -5.0, -4.4, -3.6, -3.2, -2.8],
    36: [-12.9, -5.4, -4.5, -3.9, -3.5, -3.1, -2.8, -2.4, -2.0, -1.4, -0.5, 1.5, 1.7, 1.9, 2.1, 2.3, 2.5],
    37: [-12.0, -11.0, -9.7, -8.8, -6.2, -5.3, -4.9, -3.0, -1.0],
    38: [-13.5, -11.3, -9.0, -8.3, -7.2, -7.0, -6.8, -5.0, -4.8, -4.6, -4.3, -4.0, -3.7, -3.3, 0.2],
    39: [-13.4, -12.0, -9.0, -8.0, -7.4, -7.1, -5.0, -4.6, -3.6, -3.0, -2.7, -2.4, -2.2, -2.0, -1.7, -1.4, 0.4,
         1.0, 1.8, 2.3],
    40: [-11.8, -10.3, -9.0, -7.5, -7.3, -7.0, -6.0, -5.6, -4.5, 1.6, 1.9, 2.2], 41: [-10.4, -9.9, -1.9, -1.6, 0.4],
    42: [-10.0, -9.5, -9.0, -8.6, -6.6, -4.8, -3.0, -2.2, -1.5, -0.5, 0.4],
    43: [-9.3, -7.8, -6.5, -5.0, -4.0, -3.0, -2.4, -2.0, -1.7, -1.4, -1.1, -0.8, -0.5, 1.5, 1.8, 2.0, 2.3],
    44: [-7.2, -6.8, -6.0, -5.6, -4.7, -4.4, -4.0, -3.6, -3.0, -2.5, -1.0, -0.2, 0.0, 0.6, 1.0, 1.5, 2.0, 2.3],
    45: [-7.4, -7.2, -6.8, -6.5, -5.6, -5.3, -4.8, -4.4, -3.5, -3.3, -3.0, -2.7, -2.4, -1.0, -0.4],
    46: [-5.6, -4.9, -4.6, -4.2, -3.8, -3.3, -2.6, -2.4, -1.6, -1.3, -1.1, -0.9, -0.7, 0.0, 0.4, 0.7],
    47: [-5.9, -5.7, -4.6, -4.0, -3.4, -3.0, -1.5, -1.3, -0.8], 48: [-2.1, 0.4, 0.8],
    49: [-2.5, -2.0, -1.6, -0.8, 0.3, 0.7], 50: [-0.5, 0.3, 0.7], 51: [-1.0, 0.3, 0.9],
    53: [-13.1, -8.3, -5.4, -1.5, -0.8, -0.7, 0.2],
    54: [-12.2, -10.3, -8.5, -6.3, -6.1, -5.2, -4.2, -3.7, -3.2, -2.7, -1.4], 55: [-8.5],
    57: [-8.3, -3.6, -3.5], 58: [-8.0], 60: [-7.2, -3.0, -0.5], 61: [-1.9, -1.6, -1.0, -0.6, 0.0, 0.3],
    62: [-2.6, -1.9, -1.3, -1.0, 0.0, 1.0], 63: [-1.0], 64: [-0.8, 0.0],
}
C_ldl0 = {0: [1.51], 1: [0.44, 1.47], 2: [1.69, 2.72], 3: [0.31, 1.51, 2.6], 4: [0.48, 1.21, 2.19], 5: [1.8],
          12: [-3.03], 13: [1.84], 20: [0.33],
          26: [-9.78, -3.2, -2.59, -2.48, -0.94, -0.39, 0.09, 0.44, 0.7, 1.54, 2.17],
          31: [-6.91, -5.81, -2.98], 33: [-8.03, -5.18, -1.6, -1.16, 0.42], 35: [0.15], 44: [-0.83, 0.33], 48: [-0.72]}
C_ldl99 = {0: [-11.73, -4.78, -2.32, -1.32, 0.37, 0.92], 1: [1.03], 3: [-2.63, -0.5, 2.24],
           4: [-4.12, -1.16, -0.94, -0.72], 6: [-11.36, -10.04, -8.62, -7.48], 9: [-2.48, -1.49, 0.59],
           12: [-5.44], 21: [-3.29, -3.09, -2.04], 24: [-5.55], 25: [-2.7], 26: [-7.7, -6.43, -5.88, -4.28],
           28: [-9.5], 30: [0.04], 31: [-4.01], 32: [-2.92], 35: [-8.44, -4.52, -1.45, 0.66, 1.21, 1.73, 2.24],
           36: [0.99], 38: [-5.37, 0.0], 39: [-3.25], 42: [-1.82], 44: [-5.26, -4.17], 48: [-2.43, -1.75, -0.18],
           49: [0.0, 0.33, 0.66, 1.03, 1.54, 2.24], 51: [0.15, 0.59, 0.81]}
C_ldl129 = {0: [-7.52, -6.21, -2.98, -1.6, -0.29], 1: [-5.26], 3: [-1.6], 4: [-4.63, -2.52], 5: [0.44],
            6: [-6.25], 11: [-8.33], 12: [-4.96], 17: [-5.0, -3.79, -0.44, -0.22, 0.92], 21: [-4.01, -0.94],
            22: [-0.13], 23: [0.15], 24: [-4.89, -4.56, -4.23], 26: [-10.44, -6.97, -4.78],
            28: [-10.59, -10.26, -7.79, -6.93, -5.22], 29: [-0.29, -0.07], 30: [-1.34], 32: [-5.22], 34: [-0.9],
            35: [-6.47, -5.48, -3.42, -2.37], 39: [-4.34], 42: [-3.29, -2.76, -1.1], 43: [2.46],
            48: [-3.03, -2.76], 49: [-0.99], 51: [-0.13]}
C_ldl159 = {0: [-5.18], 1: [-6.32, -4.28, -1.43, -0.44, 2.46], 2: [0.04, 1.14], 5: [-0.2, 0.0, 1.03],
            13: [2.08], 14: [-2.15, 0.04], 15: [-7.15], 16: [-7.59], 17: [-4.34, -3.57, -3.25, -2.04, -1.6, -1.05],
            18: [-6.54], 19: [0.37], 22: [-0.9], 24: [-6.21, -5.92, -3.25, -0.33],
            25: [-10.22, -8.66, -6.82, -2.98], 26: [-2.04, -1.71, -1.38], 27: [-9.87, -9.28, -7.7, -6.03, -5.83, -4.71],
            28: [-5.77, -4.67, -3.62, -1.16], 29: [-0.77], 30: [-0.39], 32: [-7.79, -7.52, 0.37],
            34: [-9.32, -8.0, -7.02, -6.1, -5.13, -3.84, -3.03, -1.71, -1.21, -1.12, -0.33], 35: [-9.54], 36: [0.0],
            37: [-15.37, -10.31], 39: [-0.29], 40: [1.36, 2.72], 45: [0.59], 48: [-3.57, -3.31], 50: [-2.19]}
C_gdx = {1: 0.11, 2: 0.04, 3: 0.0, 4: 0.48, 5: -1.12, 13: 2.13, 14: 0.92, 20: 0.09, 22: 0.59, 24: -0.07,
         25: -2.98, 26: -4.28, 27: -7.7, 28: -3.62, 29: -2.98, 33: 0.42, 38: 0.0, 43: 0.53}
C_cvd = {0: -0.35, 2: -0.13, 3: -3.57, 4: -2.52, 5: -0.35, 26: -3.46, 27: -4.56, 28: -1.97, 29: -0.94,
         30: -5.0, 31: -6.14, 32: -1.71, 33: -9.06, 34: -0.66, 35: -0.44, 36: -1.82, 37: -1.97, 38: -1.97,
         39: -0.29, 40: -0.18, 41: -2.08, 42: -1.1, 43: -2.74, 44: -2.15, 45: -3.79, 46: -1.97, 47: -1.89,
         48: -3.31, 49: -0.35, 50: -1.97, 51: -1.97}
C_survey = {0: "x__", 1: "x_xxxx", 5: "x_xxx_", 9: "_", 10: "xxx__", 12: "x_x__", 18: "x__",
            25: "xxxxxx", 26: "_", 27: "x__", 28: "x_x__", 33: "xxx___", 35: "x_xxxx", 37: "xxx_xx",
            39: "xxxx__", 40: "xxx_xx", 42: "xxxx_", 43: "xxxx_x", 49: "xx_", 62: "xx_", 63: "_", 64: "x_x_xx"}

# ---------------- marker styles ----------------
S_DONE = dict(symbol="circle", size=6, color="black")
S_ORD = dict(symbol="square", size=5.5, color="black")
S_GDX = dict(symbol="diamond-open", size=12, color=DARK, line=dict(width=1.2, color=DARK))
S_UP = dict(symbol="triangle-up-open", size=12, color=ORANGE, line=dict(width=1.3, color=ORANGE))
S_DOWN = dict(symbol="triangle-down-open", size=12, color=ORANGE, line=dict(width=1.3, color=ORANGE))
S_MAST = dict(symbol="square-cross-open", size=9, color=PINK, line=dict(width=1, color=PINK))
S_OOPH = dict(symbol="diamond", size=8, color=PINK)
S_ENC = dict(symbol="circle", size=4, color=ENC)
S_L0 = dict(symbol="circle", size=9, color="#0aa37f", opacity=0.9)
S_L99 = dict(symbol="circle", size=9, color="#f3e153", opacity=0.9)
S_L129 = dict(symbol="circle", size=9, color="#f5a623", opacity=0.9)
S_L159 = dict(symbol="circle", size=9, color="#ea6a22", opacity=0.9)

PANELS = [
    dict(letter="A", lpx=(46, 12), xpx=(206, 862), ypx=(6, 1202), xr=(-24.04, 3.01), y0=42.3, dy=11.84,
         ticks=[-22.5] + list(range(-20, 4)), sizes=A_sizes, titles=A_titles, age=A_age, start=A_start,
         end=A_end, enc=A_enc, survey=A_survey, sx=(870.7, 16.3), sq_top=1191, sq_dx=-4, hx=(-23.05, -20.2),
         layers=[(A_done, S_DONE), (A_ordered, S_ORD), (A_gdx, S_GDX), (A_breast, S_UP), (A_ovarian, S_DOWN),
                 (A_mastectomy, S_MAST), (A_oophorectomy, S_OOPH)],
         fs=dict(age=10, tick=10, head=12, title=12, leg=11, legt=13.5, sq=9.5, sv=8),
         sv_head=(912, 7, 23), leg_title=("HBOC related event", 36, 491), leg_mx=46, leg_tx=63,
         legend=[("mammography ordered", S_ORD, 514), ("mammography completed", S_DONE, 535),
                 ("mastectomy", S_MAST, 555.7), ("oophorectomy", S_OOPH, 576), ("first genetic dx", S_GDX, 596.7),
                 ("breast cancer", S_UP, 617), ("ovarian cancer", S_DOWN, 637.7),
                 ("clinical encounter", S_ENC, 686), ("age at start of EHR", None, 764.7)]),
    dict(letter="B", lpx=(10, 1353), xpx=(172, 891), ypx=(1351, 2142), xr=(-23.98, 3.0), y0=1387.7, dy=12.17,
         ticks=[-22.5] + list(range(-20, 4)), sizes=B_sizes, titles=B_titles, age=B_age, start=B_start,
         end=B_end, enc=B_enc, survey=B_survey, sx=(902, 17.7), sq_top=2130, sq_dx=-4, hx=(-23.0, -20.2),
         layers=[(B_done, S_DONE), (B_referral, S_ORD), (B_gdx, S_GDX), (B_colorectal, S_UP),
                 (B_endometrial, S_DOWN)],
         fs=dict(age=11, tick=11, head=13, title=13, leg=11.5, legt=14, sq=9.8, sv=9),
         sv_head=(946, 1349, 1369), leg_title=("LS related event", 0, 1647.3), leg_mx=12, leg_tx=29,
         legend=[("colonoscopy referral", S_ORD, 1671.7), ("colonoscopy completed", S_DONE, 1693.7),
                 ("first genetic dx", S_GDX, 1716), ("colorectal cancer", S_UP, 1738),
                 ("endometrial cancer", S_DOWN, 1760), ("clinical encounter", S_ENC, 1812.7),
                 ("age at start of EHR", None, 1899.3)]),
    dict(letter="C", lpx=(10, 2277), xpx=(140, 884), ypx=(2273, 3333), xr=(-21.0, 3.0), y0=2312.1, dy=12.94,
         ticks=list(range(-21, 4)), sizes=C_sizes, titles=C_titles, age=C_age, start=C_start,
         end=C_end, enc=C_enc, survey=C_survey, sx=(898, 20.7), sq_top=3308, sq_dx=-12, hx=(-20.5, -18.1),
         layers=[(C_ldl99, S_L99), (C_ldl129, S_L129), (C_ldl159, S_L159), (C_ldl0, S_L0), (C_gdx, S_GDX),
                 (C_cvd, S_UP)],
         fs=dict(age=11.5, tick=11.5, head=13, title=13, leg=11.5, legt=14, sq=9, sv=9),
         sv_head=(949, 2271, 2291), leg_title=("FH related event", 0, 2693.6), leg_mx=12, leg_tx=29,
         legend=[("LDL 0-99", S_L0, 2717), ("LDL >99", S_L99, 2739), ("LDL >129", S_L129, 2761.4),
                 ("LDL >159", S_L159, 2783.6), ("first genetic dx", S_GDX, 2805.7), ("CVD", S_UP, 2827.5),
                 ("clinical encounter", S_ENC, 2880), ("age at start of EHR", None, 2985.3)]),
]

fig = go.Figure()
annotations, shapes = [], []


def flat(d):
    out = []
    for r, v in d.items():
        for x in (v if isinstance(v, list) else [v]):
            out.append((r, x))
    return out


def row_positions(sizes, gap=4):
    pos, p = [], 0
    for n in sizes:
        pos += list(range(p, p + n))
        p += n + gap
    return pos


for k, P in enumerate(PANELS, start=1):
    xa, ya = ("x", "y") if k == 1 else (f"x{k}", f"y{k}")
    xn, yn = ("xaxis", "yaxis") if k == 1 else (f"xaxis{k}", f"yaxis{k}")
    xs_a, xs_n = f"x{k + 3}", f"xaxis{k + 3}"      # survey strip, pixel units
    xl_a, xl_n = f"x{k + 6}", f"xaxis{k + 6}"      # legend strip, pixel units
    (l, r), (t, b) = P["xpx"], P["ypx"]
    x0, x1 = P["xr"]
    ppu = (r - l) / (x1 - x0)
    Y = lambda p, P=P: (p - P["y0"]) / P["dy"]
    fs = P["fs"]
    pos = row_positions(P["sizes"])
    common = dict(hoverinfo="skip", showlegend=False, cliponaxis=False, yaxis=ya)

    ticktext = ["21 or more<br>years prior" if v == -22.5 else ("^<br>notification" if v == 0 else str(v))
                for v in P["ticks"]]
    hidden = dict(visible=False, showgrid=False, zeroline=False, anchor=ya, fixedrange=True)
    fig.update_layout({
        xn: dict(domain=[l / W, r / W], range=[x0, x1], anchor=ya, tickvals=P["ticks"], ticktext=ticktext,
                 tickangle=0, showgrid=True, gridcolor="#ececec", gridwidth=1, zeroline=False, showline=True,
                 linecolor="#4d4d4d", linewidth=1.3, mirror=True, ticks="outside", ticklen=4,
                 tickcolor="#4d4d4d", tickfont=dict(size=fs["tick"], color="#4d4d4d", family=FONT),
                 title=dict(text="years relative to notification time", standoff=2,
                            font=dict(size=fs["title"], color="#222", family=FONT))),
        yn: dict(domain=[1 - b / H, 1 - t / H], range=[Y(b), Y(t)], anchor=xa, showgrid=False,
                 zeroline=False, showticklabels=False, showline=True, linecolor="#4d4d4d", linewidth=1.3,
                 mirror=True, ticks=""),
        xs_n: dict(domain=[r / W, 1], range=[r, W], **hidden),
        xl_n: dict(domain=[0, l / W], range=[0, l], **hidden),
    })

    # dotted connectors from pre-record events to the age label
    cx, cy = [], []
    allev = {}
    for d, _ in P["layers"]:
        for rr, x in flat(d):
            allev.setdefault(rr, []).append(x)
    for i, s in enumerate(P["start"]):
        m = min(allev.get(i, [s]))
        lab_w = (0.58 * fs["age"] * len(str(P["age"][i])) + 6) / ppu
        if m < s - lab_w - 0.2:
            cx += [m, s - lab_w, None]
            cy += [pos[i], pos[i], None]
    fig.add_trace(go.Scatter(x=cx, y=cy, xaxis=xa, mode="lines",
                             line=dict(color="#a0a0a0", width=1.2, dash="dot"), **common))

    # EHR span bars
    bx, by = [], []
    for i, (s, e) in enumerate(zip(P["start"], P["end"])):
        bx += [s, e, None]
        by += [pos[i], pos[i], None]
    fig.add_trace(go.Scatter(x=bx, y=by, xaxis=xa, mode="lines", line=dict(color=BAR, width=5.5), **common))

    # clinical encounters
    ep = flat(P["enc"])
    fig.add_trace(go.Scatter(x=[x for _, x in ep], y=[pos[rr] for rr, _ in ep], xaxis=xa, mode="markers",
                             marker=S_ENC, **common))

    # related events
    for d, style in P["layers"]:
        pr = flat(d)
        fig.add_trace(go.Scatter(x=[x for _, x in pr], y=[pos[rr] for rr, _ in pr], xaxis=xa, mode="markers",
                                 marker=style, **common))

    # age labels
    fig.add_trace(go.Scatter(x=[s - 3 / ppu for s in P["start"]], y=pos, xaxis=xa, mode="text",
                             text=[str(a) for a in P["age"]], textposition="middle left",
                             textfont=dict(color=BLUE, size=fs["age"], family=FONT), **common))

    # survey responses
    sxs, sys_, ssym = [], [], []
    for rr, code in P["survey"].items():
        for j, c in enumerate(code):
            if c == " ":
                continue
            sxs.append(P["sx"][0] + j * P["sx"][1])
            sys_.append(pos[rr])
            ssym.append("square-x-open" if c == "x" else "square-open")
    fig.add_trace(go.Scatter(x=sxs, y=sys_, xaxis=xs_a, mode="markers",
                             marker=dict(symbol=ssym, size=fs["sv"], color="#4d4d4d",
                                         line=dict(width=1.1, color="#4d4d4d")), **common))
    for j, q in enumerate(SURVEY_Q):
        annotations.append(dict(x=(P["sx"][0] + P["sq_dx"] + j * P["sx"][1]) / W, y=1 - P["sq_top"] / H,
                                xref="paper", yref="paper", text=q, textangle=45, showarrow=False,
                                xanchor="left", yanchor="top",
                                font=dict(size=fs["sq"], color="#222", family=FONT)))

    # group headings
    start_i = 0
    for g, (n, title) in enumerate(zip(P["sizes"], P["titles"])):
        annotations.append(dict(x=P["hx"][0] if g < 2 else P["hx"][1], y=pos[start_i] - 1.55, xref=xa, yref=ya,
                                text=title, showarrow=False, xanchor="left", yanchor="middle",
                                font=dict(size=fs["head"], color="#111", family=FONT)))
        start_i += n

    # notification line
    shapes.append(dict(type="line", xref=xa, yref=f"{ya} domain", x0=0, x1=0, y0=0, y1=1,
                       line=dict(color="black", width=1.3, dash="dash")))

    # panel letter and survey heading
    annotations.append(dict(x=P["lpx"][0] / W, y=1 - P["lpx"][1] / H, xref="paper", yref="paper",
                            text=f"<b>{P['letter']}</b>", showarrow=False, xanchor="center", yanchor="middle",
                            font=dict(size=20, color="black", family=FONT)))
    hx_, hy1, hy2 = P["sv_head"]
    for txt, hy in (("survey", hy1), ("responses", hy2)):
        annotations.append(dict(x=hx_ / W, y=1 - hy / H, xref="paper", yref="paper", text=txt,
                                showarrow=False, xanchor="center", yanchor="middle",
                                font=dict(size=12.5, color="#222", family=FONT)))

    # legend
    lt, ltx, lty = P["leg_title"]
    annotations.append(dict(x=ltx, y=Y(lty), xref=xl_a, yref=ya, text=lt, showarrow=False,
                            xanchor="left", yanchor="middle", font=dict(size=fs["legt"], color="#222", family=FONT)))
    for label, style, ly in P["legend"]:
        if style is None:
            annotations.append(dict(x=P["leg_mx"], y=Y(ly), xref=xl_a, yref=ya, text="##", showarrow=False,
                                    xanchor="center", yanchor="middle",
                                    font=dict(size=fs["leg"], color=BLUE, family=FONT)))
        else:
            st = dict(style, size=5) if style is S_ENC else style
            fig.add_trace(go.Scatter(x=[P["leg_mx"]], y=[Y(ly)], xaxis=xl_a, mode="markers", marker=st, **common))
        annotations.append(dict(x=P["leg_tx"], y=Y(ly), xref=xl_a, yref=ya, text=label, showarrow=False,
                                xanchor="left", yanchor="middle",
                                font=dict(size=fs["leg"], color="#222", family=FONT)))

fig.update_layout(width=W, height=H, margin=dict(l=0, r=0, t=0, b=0), paper_bgcolor="white",
                  plot_bgcolor="white", showlegend=False, hovermode=False, template="none",
                  font=dict(family=FONT, color="#222"), annotations=annotations, shapes=shapes)

fig.write_html("out.html", config={"displayModeBar": False},
               post_script="document.body.style.margin='0';")
